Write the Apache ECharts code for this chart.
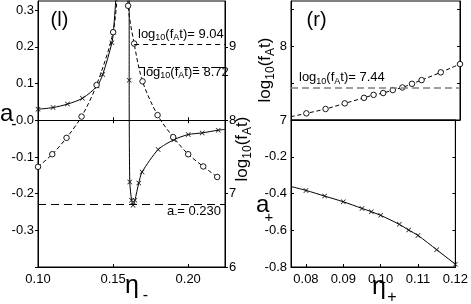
<!DOCTYPE html>
<html><head><meta charset="utf-8">
<script src="https://cdn.jsdelivr.net/npm/echarts@6/dist/echarts.min.js"></script>
<style>html,body{margin:0;padding:0;background:#fff}#c{width:471px;height:304px}</style>
</head><body><div id="c"></div>
<script>
// ---------- data ----------
// Left panel (l): eta_minus
const crossLeftEta  = [0.100, 0.110, 0.1196, 0.1296, 0.1393, 0.1431, 0.1492, 0.1502];
const crossLeftA    = [0.030, 0.0346, 0.044, 0.060, 0.093, 0.125, 0.211, 0.240];
const crossLeftExit = [0.153, 0.40];          // curve leaves the top
const crossRightEntry = [0.1607, 0.40];       // vertical part enters from the top
const crossRightEta = [0.1607, 0.1611, 0.1623, 0.1633, 0.1645, 0.1671, 0.1693, 0.180, 0.1905, 0.200, 0.2093, 0.220];
const crossRightA   = [0.109, -0.168, -0.218, -0.2316, -0.218, -0.171, -0.141, -0.080, -0.053, -0.039, -0.0345, -0.027];
const crossRightExit = [0.2245, -0.025];

const circleLeftEta = [0.100, 0.1095, 0.119, 0.129, 0.139, 0.150];
const circleLeftLog = [7.365, 7.537, 7.76, 8.05, 8.48, 9.20];
const circleLeftExit = [0.1535, 9.9];
const circleRightEntry = [0.1596, 9.9];
const circleRightEta = [0.160, 0.164, 0.1696, 0.1796, 0.190, 0.200, 0.210, 0.2193];
const circleRightLog = [9.56, 9.045, 8.53, 8.07, 7.77, 7.537, 7.37, 7.227];

// Right panel (r): eta_plus
const etaPlusLog = [0.08, 0.085, 0.09, 0.095, 0.0975, 0.10, 0.1025, 0.105, 0.1075, 0.11, 0.115, 0.12];
const logPlus    = [7.09, 7.149, 7.225, 7.30, 7.34, 7.365, 7.405, 7.44, 7.49, 7.54, 7.645, 7.757];
const logPlusStart = [0.076, 7.045];
const etaPlusA = [0.08, 0.085, 0.09, 0.095, 0.0975, 0.10, 0.105, 0.1075, 0.11, 0.115, 0.12];
const aPlus    = [-0.383, -0.414, -0.445, -0.481, -0.499, -0.519, -0.568, -0.599, -0.628, -0.706, -0.785];
const aPlusStart = [0.076, -0.362];

// reference lines
const refLog904 = {from: 0.1640, to: 0.2245, value: 9.04};
const refLog872 = {from: 0.1673, to: 0.2245, value: 8.72};
const refAm230  = {from: 0.10, to: 0.2245, value: -0.230};
const refLog744 = {from: 0.076, to: 0.12, value: 7.437};

// tick labels
const etaMinusTicks = [0.10, 0.15, 0.20];
const aMinusTicks   = [-0.3, -0.2, -0.1, 0.0, 0.1, 0.2, 0.3];
const aMinusTickMarks = [-0.4, -0.3, -0.2, -0.1, 0.0, 0.1, 0.2, 0.3];
const logLeftTicks  = [6, 7, 8, 9];
const etaPlusTicks  = [0.08, 0.09, 0.10, 0.11, 0.12];
const logRightLabels = [7, 8];
const logRightTicks  = [7, 7.5, 8, 8.5];
const aPlusLabels = [-0.8, -0.6, -0.4, -0.2];
const aPlusTicks  = [-0.8, -0.6, -0.4, -0.2, 0];

// ---------- chart ----------
const FF = "'Liberation Sans', Arial, Helvetica, sans-serif";
const K = '#000';
const lab = (vals, fmt, extra) => Object.assign({customValues: vals, color: K, fontSize: 13, fontFamily: FF, margin: 4, formatter: fmt}, extra || {});
const tick = (vals, inside, len) => ({show: true, customValues: vals, inside: inside, length: len || 3, lineStyle: {color: K, width: 1}});
const aline = {show: true, onZero: false, lineStyle: {color: K, width: 1}};
const crossSym = 'path://M0,1L1,0L5,4L9,0L10,1L6,5L10,9L9,10L5,6L1,10L0,9L4,5Z';

const pts = (xs, ys, size, pre, post) => {
  const d = xs.map((x, i) => ({value: [x, ys[i]], symbolSize: size}));
  if (pre) d.unshift({value: pre, symbolSize: 0});
  if (post) d.push({value: post, symbolSize: 0});
  return d;
};

const crossSeries = (xi, yi, data, smooth) => ({
  type: 'line', xAxisIndex: xi, yAxisIndex: yi, data: data, symbol: crossSym,
  itemStyle: {color: '#111'}, lineStyle: {color: K, width: 1}, smooth: smooth, clip: true, z: 3
});
const circleSeries = (xi, yi, data, smooth) => ({
  type: 'line', xAxisIndex: xi, yAxisIndex: yi, data: data, symbol: 'circle',
  itemStyle: {color: '#fff', borderColor: '#000', borderWidth: 0.9},
  lineStyle: {color: '#000', width: 1, type: [4, 2.5]},
  smooth: smooth, clip: true, z: 4
});
const mline = (ref, style) => ({
  silent: true, symbol: 'none', label: {show: false}, animation: false,
  lineStyle: style,
  data: [[{coord: [ref.from, ref.value]}, {coord: [ref.to, ref.value]}]]
});

const main = {fontSize: 13, fontFamily: FF, fill: K, verticalAlign: 'top', lineHeight: 15};
const sub  = {fontSize: 9, fontFamily: FF, fill: K, verticalAlign: 'top', lineHeight: 10, padding: [6, 0, 0, 0]};
const logText = (val) => `{m|log}{s|10}{m|(f}{s|A}{m|t)${val}}`;
const titleMain = {fontSize: 17, fontFamily: FF, fill: K, verticalAlign: 'top', lineHeight: 20};
const titleSub  = {fontSize: 12, fontFamily: FF, fill: K, verticalAlign: 'top', lineHeight: 13, padding: [8, 0, 0, 0]};

const txt = (x, y, text, size, align, extra) => ({
  type: 'text', x: x, y: y, z: 100,
  style: Object.assign({text: text, fontSize: size, fontFamily: FF, fill: K, align: align || 'left', verticalAlign: 'middle'}, extra || {})
});
const richTxt = (x, y, text, rich, extra, rot) => ({
  type: 'text', x: x, y: y, rotation: rot || 0, z: 100,
  style: Object.assign({text: text, rich: rich, align: 'left', verticalAlign: 'top'}, extra || {})
});

const option = {
  animation: false,
  backgroundColor: '#fff',
  grid: [
    {left: 38, top: 1, width: 187, height: 266, show: true, borderColor: K, borderWidth: 1, backgroundColor: 'transparent'},
    {left: 291, top: 1, width: 169, height: 119, show: true, borderColor: K, borderWidth: 1, backgroundColor: 'transparent'},
    {left: 291, top: 120, width: 169, height: 147, show: true, borderColor: K, borderWidth: 1, backgroundColor: 'transparent'}
  ],
  xAxis: [
    {gridIndex: 0, type: 'value', min: 0.10, max: 0.2245, position: 'bottom', splitLine: {show: false},
     axisLine: aline, axisTick: tick(etaMinusTicks, true), axisLabel: lab(etaMinusTicks, v => v.toFixed(2), {margin: 6})},
    {gridIndex: 0, type: 'value', min: 0.10, max: 0.2245, position: 'bottom', splitLine: {show: false},
     axisLine: {show: true, onZero: true, onZeroAxisIndex: 0, lineStyle: {color: K, width: 1}},
     axisTick: tick([0.15, 0.20], true), axisLabel: {show: false}},
    {gridIndex: 0, type: 'value', min: 0.10, max: 0.2245, position: 'bottom', splitLine: {show: false},
     axisLine: {show: true, onZero: true, onZeroAxisIndex: 0, lineStyle: {color: K, width: 1}},
     axisTick: tick([0.15, 0.20], false), axisLabel: {show: false}},
    {gridIndex: 1, type: 'value', min: 0.076, max: 0.12, position: 'bottom', splitLine: {show: false},
     axisLine: aline, axisTick: {show: false}, axisLabel: {show: false}},
    {gridIndex: 2, type: 'value', min: 0.076, max: 0.12, position: 'bottom', splitLine: {show: false},
     axisLine: aline, axisTick: tick(etaPlusTicks, true), axisLabel: lab(etaPlusTicks, v => v.toFixed(2), {margin: 6})}
  ],
  yAxis: [
    {gridIndex: 0, type: 'value', min: -0.4, max: 0.325, position: 'left', splitLine: {show: false},
     axisLine: aline, axisTick: tick(aMinusTickMarks, false), axisLabel: lab(aMinusTicks, v => v.toFixed(1))},
    {gridIndex: 0, type: 'value', min: 6, max: 9.625, position: 'right', splitLine: {show: false},
     axisLine: aline, axisTick: tick(logLeftTicks, false), axisLabel: lab(logLeftTicks, v => String(v))},
    {gridIndex: 1, type: 'value', min: 7, max: 8.61, position: 'left', splitLine: {show: false},
     axisLine: aline, axisTick: tick(logRightTicks, true), axisLabel: lab(logRightLabels, v => String(v))},
    {gridIndex: 1, type: 'value', min: 7, max: 8.61, position: 'right', splitLine: {show: false},
     axisLine: aline, axisTick: tick(logRightTicks, true), axisLabel: {show: false}},
    {gridIndex: 2, type: 'value', min: -0.8, max: 0, position: 'left', splitLine: {show: false},
     axisLine: aline, axisTick: tick(aPlusTicks, true), axisLabel: lab(aPlusLabels, v => v.toFixed(1))},
    {gridIndex: 2, type: 'value', min: -0.8, max: 0, position: 'right', splitLine: {show: false},
     axisLine: aline, axisTick: tick(aPlusTicks, true), axisLabel: {show: false}}
  ],
  series: [
    Object.assign(crossSeries(0, 0, pts(crossLeftEta, crossLeftA, 5, null, crossLeftExit), 0.3),
      {markLine: mline(refAm230, {color: K, width: 1, type: [8, 5]})}),
    crossSeries(0, 0, pts(crossRightEta, crossRightA, 5, crossRightEntry, crossRightExit), 0.25),
    Object.assign(circleSeries(0, 1, pts(circleLeftEta, circleLeftLog, 5.5, null, circleLeftExit), 0.3),
      {markLine: mline(refLog904, {color: K, width: 1, type: [5, 4]})}),
    Object.assign(circleSeries(0, 1, pts(circleRightEta, circleRightLog, 5.5, circleRightEntry, null), 0.3),
      {markLine: mline(refLog872, {color: K, width: 1, type: [5, 4]})}),
    Object.assign(circleSeries(3, 2, pts(etaPlusLog, logPlus, 5.5, logPlusStart, null), 0.3),
      {markLine: mline(refLog744, {color: '#808080', width: 1.5, type: [7, 4]})}),
    crossSeries(4, 4, pts(etaPlusA, aPlus, 5, aPlusStart, null), 0.3)
  ],
  graphic: [
    txt(50.6, 20.7, '(l)', 20),
    txt(306.6, 20.7, '(r)', 20),
    // a_ title
    txt(0, 114.5, 'a', 24),
    txt(14, 124.5, '-', 16, 'center'),
    // a+ title
    txt(256, 205.3, 'a', 24),
    txt(269, 217.5, '+', 15, 'center'),
    // eta titles
    txt(125, 286, 'η', 25),
    txt(145.5, 295.8, '-', 16, 'center'),
    txt(372, 287.5, 'η', 25),
    txt(392, 297.5, '+', 16, 'center'),
    // rotated log titles
    richTxt(244, 149, logText(''), {m: titleMain, s: titleSub}, {align: 'center', verticalAlign: 'middle'}, Math.PI / 2),
    richTxt(267, 70, logText(''), {m: titleMain, s: titleSub}, {align: 'center', verticalAlign: 'middle'}, Math.PI / 2),
    // annotations
    richTxt(138, 27.5, logText('= 9.04'), {m: main, s: sub}),
    richTxt(143, 65.5, logText('= 8.72'), {m: main, s: sub}),
    richTxt(299, 71, logText('= 7.44'), {m: main, s: sub}),
    richTxt(167, 204.5, '{m|a}{s|-}{m|= 0.230}', {m: main, s: sub})
  ]
};
const chart = echarts.init(document.getElementById('c'), null, {renderer: 'canvas'});
chart.setOption(option);
</script>
</body></html>
